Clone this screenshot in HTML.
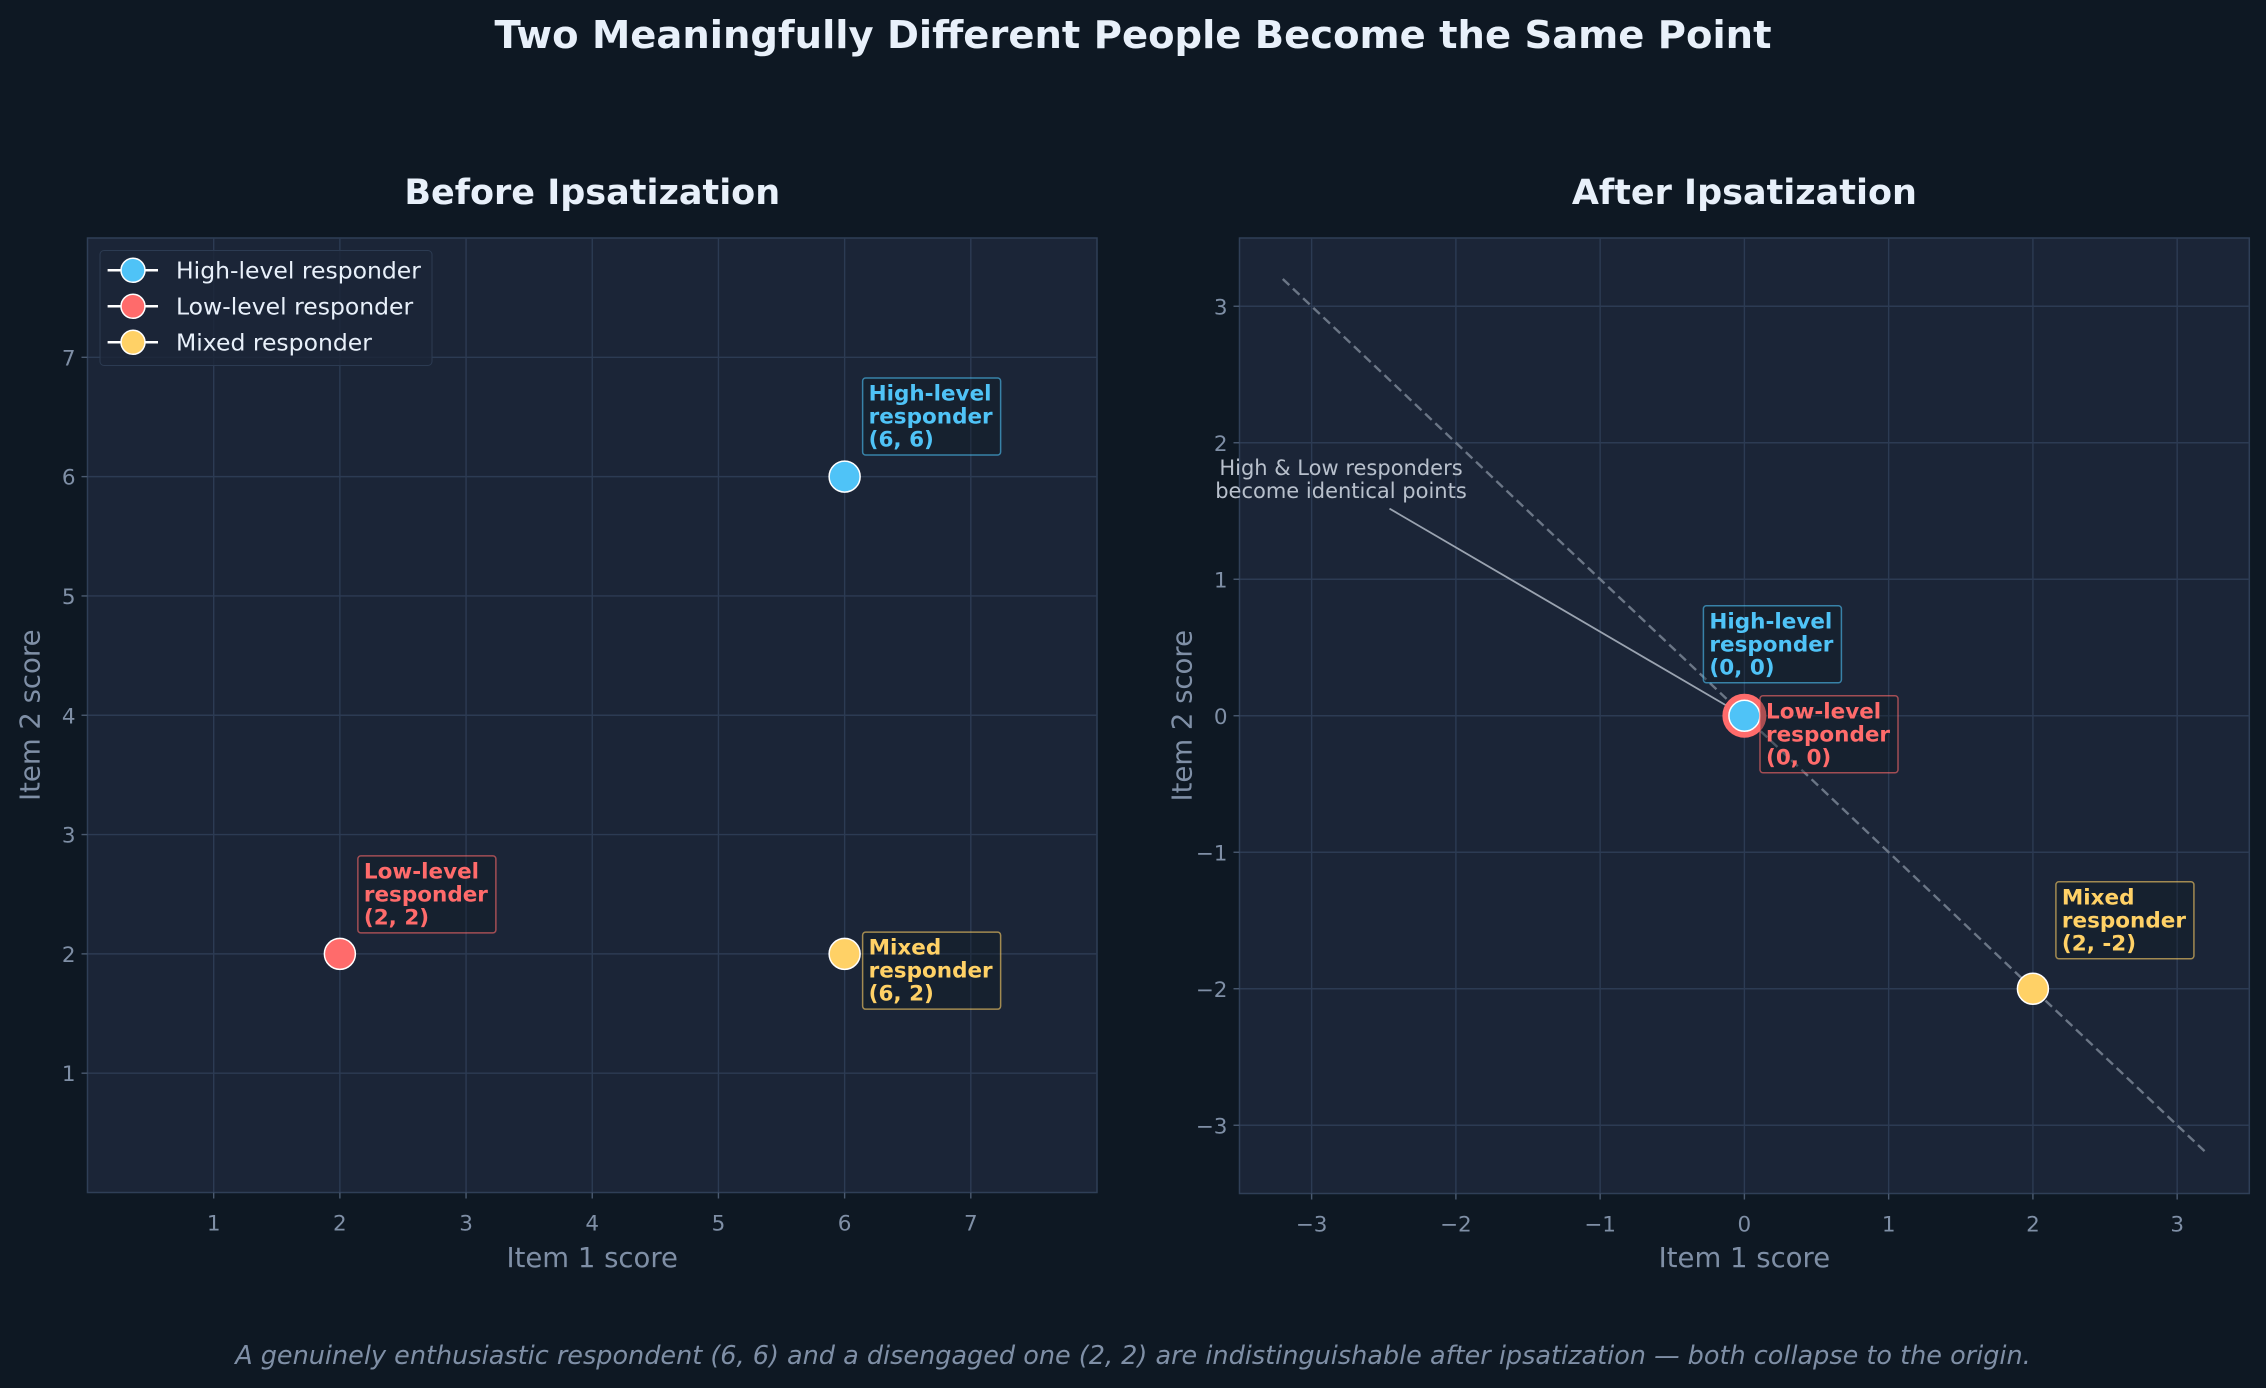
<!DOCTYPE html>
<html><head><meta charset="utf-8"><style>
body{margin:0;background:#0e1823;}
svg{display:block;font-family:"DejaVu Sans","Liberation Sans",sans-serif;}
</style></head><body>
<svg id="fig" width="2266" height="1388" viewBox="0 0 2266 1388" xmlns="http://www.w3.org/2000/svg">
<rect width="2266" height="1388" fill="#0e1823"/>
<text x="1133" y="48" text-anchor="middle" fill="#e8f0fa" font-size="38.5" font-weight="bold">Two Meaningfully Different People Become the Same Point</text>
<text x="1133" y="1364" text-anchor="middle" fill="#7f8fa6" font-size="25.5" font-style="italic">A genuinely enthusiastic respondent (6, 6) and a disengaged one (2, 2) are indistinguishable after ipsatization — both collapse to the origin.</text>
<g id="left"></g>
<g id="right"></g>
</svg>
<script>
const names = ["High-level responder","Low-level responder","Mixed responder"];
const colors = ["#4fc3f7","#ff6b6b","#ffd166"];
const beforeX = [6,2,6];
const beforeY = [6,2,2];
const afterX = [0,0,2];
const afterY = [0,0,-2];
const leftTicks = [1,2,3,4,5,6,7];
const rightTicks = [-3,-2,-1,0,1,2,3];
const NS="http://www.w3.org/2000/svg";
function mk(p,tag,attrs,txt){const e=document.createElementNS(NS,tag);for(const k in attrs)e.setAttribute(k,attrs[k]);if(txt!==undefined)e.textContent=txt;p.appendChild(e);return e;}
function panel(g,L,T,R,B,xmin,xmax,ymin,ymax,ticks,title){
  const sx=v=>L+(v-xmin)/(xmax-xmin)*(R-L);
  const sy=v=>B-(v-ymin)/(ymax-ymin)*(B-T);
  let e=mk(g,'rect',{x:L,y:T,width:R-L,height:B-T,fill:'#1b2537',stroke:'#2f3f57','stroke-width':1.5});
  
  ticks.forEach(t=>{
    const lbl=String(t).replace('-','\u2212');
    e=mk(g,'line',{x1:sx(t),x2:sx(t),y1:T,y2:B,stroke:'#2c3b53','stroke-width':1.4});
    
    e=mk(g,'line',{x1:L,x2:R,y1:sy(t),y2:sy(t),stroke:'#2c3b53','stroke-width':1.4});
    
    e=mk(g,'line',{x1:sx(t),x2:sx(t),y1:B,y2:B+6,stroke:'#4a5a70','stroke-width':1.4});
    
    e=mk(g,'line',{x1:L-6,x2:L,y1:sy(t),y2:sy(t),stroke:'#4a5a70','stroke-width':1.4});
    
    e=mk(g,'text',{x:sx(t),y:B+38,'text-anchor':'middle',fill:'#7f8fa6','font-size':21.5},lbl);
    
    e=mk(g,'text',{x:L-12,y:sy(t)+8,'text-anchor':'end',fill:'#7f8fa6','font-size':21.5},lbl);
    
  });
  e=mk(g,'text',{x:(L+R)/2,y:1267,'text-anchor':'middle',fill:'#7f8fa6','font-size':27.5},'Item 1 score');
  
  e=mk(g,'text',{x:0,y:0,'text-anchor':'middle',fill:'#7f8fa6','font-size':27.5,transform:`translate(${L-48},${(T+B)/2}) rotate(-90)`},'Item 2 score');
  
  e=mk(g,'text',{x:(L+R)/2,y:204,'text-anchor':'middle',fill:'#e8f0fa','font-size':35,'font-weight':'bold'},title);
  
  return [sx,sy];
}
function label(g,x,y,c,lines){
  let e=mk(g,'rect',{x:x,y:y,width:138,height:77,rx:3,fill:'rgba(15,25,35,0.35)',stroke:c,'stroke-opacity':0.6,'stroke-width':1.5});
  
  lines.forEach((l,i)=>{e=mk(g,'text',{x:x+6,y:y+22.5+i*23,fill:c,'font-size':21.5,'font-weight':'bold'},l);
  });
}
const gl=document.getElementById('left'), gr=document.getElementById('right');
const [lx,ly]=panel(gl,87.5,238,1097,1192.5,0,8,0,8,leftTicks,'Before Ipsatization');
const [rx,ry]=panel(gr,1239.5,238,2249.3,1193.5,-3.5,3.5,-3.5,3.5,rightTicks,'After Ipsatization');
const loff=[[18,-98.6],[18,-98],[18,-21.7]];
for(let i=0;i<3;i++){
  const px=lx(beforeX[i]),py=ly(beforeY[i]);
  let e=mk(gl,'circle',{cx:px,cy:py,r:15.5,fill:colors[i],stroke:'#ffffff','stroke-width':1.5});
  
  const w=names[i].split(' ');
  label(gl,px+loff[i][0],py+loff[i][1],colors[i],[w[0],w[1],`(${beforeX[i]}, ${beforeY[i]})`]);
}
let e=mk(gl,'rect',{x:100,y:250.5,width:332,height:115,rx:4,fill:'#1b2537','fill-opacity':0.8,stroke:'#2c3b52'});

for(let i=0;i<3;i++){
  const y=270.3+i*36;
  e=mk(gl,'line',{x1:107.6,x2:158,y1:y,y2:y,stroke:'#ffffff','stroke-width':2.5});
  
  e=mk(gl,'circle',{cx:133,cy:y,r:12,fill:colors[i],stroke:'#ffffff','stroke-width':1.5});
  
  e=mk(gl,'text',{x:176,y:y+8,fill:'#e8f0fa','font-size':23.5},names[i]);
  
}
e=mk(gr,'line',{x1:rx(-3.2),y1:ry(3.2),x2:rx(3.2),y2:ry(-3.2),stroke:'#6b7686','stroke-width':2.4,'stroke-dasharray':'9,5'});

e=mk(gr,'line',{x1:1389.5,y1:508.6,x2:1725.5,y2:705,stroke:'#9aa3b0','stroke-width':1.8});

e=mk(gr,'text',{x:1341,y:475,'text-anchor':'middle',fill:'#b8c0cc','font-size':21},'High & Low responders');

e=mk(gr,'text',{x:1341,y:498,'text-anchor':'middle',fill:'#b8c0cc','font-size':21},'become identical points');

e=mk(gr,'circle',{cx:rx(afterX[1]),cy:ry(afterY[1]),r:19,fill:'none',stroke:colors[1],'stroke-width':6});

[0,2].forEach(i=>{
  const px=rx(afterX[i]),py=ry(afterY[i]);
  e=mk(gr,'circle',{cx:px,cy:py,r:15.5,fill:colors[i],stroke:'#ffffff','stroke-width':1.5});
  
});
const roff=[[-41,-110],[15.6,-20],[23,-107]];
for(let i=0;i<3;i++){
  const px=rx(afterX[i]),py=ry(afterY[i]);
  const w=names[i].split(' ');
  label(gr,px+roff[i][0],py+roff[i][1],colors[i],[w[0],w[1],`(${afterX[i]}, ${afterY[i]})`]);
}
</script>
</body></html>
